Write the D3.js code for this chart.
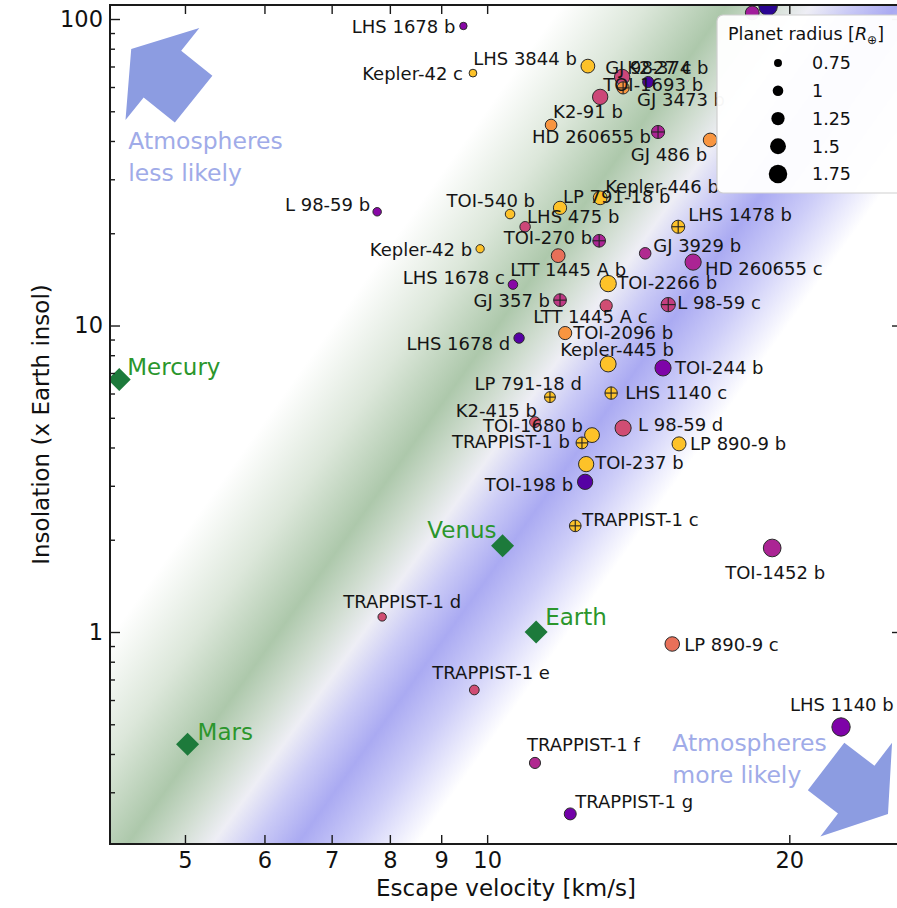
<!DOCTYPE html>
<html>
<head>
<meta charset="utf-8">
<script src="https://cdn.jsdelivr.net/npm/d3@7"></script>
<style>
  html, body { margin: 0; padding: 0; background: #ffffff; }
  svg { display: block; font-family: "DejaVu Sans", sans-serif; }
</style>
</head>
<body>
<svg id="chart" width="897" height="908"></svg>
<script>
// ---------------- DATA ----------------
const planetNames = [
  "LHS 1678 b", "LHS 3844 b", "Kepler-42 c", "GJ 9827 c", "GJ 3473 b",
  "K2-374 b", "TOI-1693 b", "K2-91 b", "HD 260655 b", "GJ 486 b",
  "", "", "", "L 98-59 b", "TOI-540 b",
  "LP 791-18 b", "Kepler-446 b", "LHS 475 b", "TOI-270 b", "Kepler-42 b",
  "LHS 1478 b", "GJ 3929 b", "HD 260655 c", "LTT 1445 A b", "TOI-2266 b",
  "LHS 1678 c", "GJ 357 b", "L 98-59 c", "LTT 1445 A c", "TOI-2096 b",
  "LHS 1678 d", "Kepler-445 b", "TOI-244 b", "LP 791-18 d", "LHS 1140 c",
  "K2-415 b", "TOI-1680 b", "TRAPPIST-1 b", "L 98-59 d", "LP 890-9 b",
  "TOI-237 b", "TOI-198 b", "TRAPPIST-1 c", "TOI-1452 b", "TRAPPIST-1 d",
  "LP 890-9 c", "TRAPPIST-1 e", "LHS 1140 b", "TRAPPIST-1 f", "TRAPPIST-1 g"
];
// escape velocity [km/s]
const escapeVelocity = [
  9.47, 12.6, 9.68, 13.63, 13.66, 14.47, 12.96, 11.58, 14.8, 16.68,
  12.66, 19.05, 18.37, 7.77, 10.54, 11.82, 12.96, 10.91, 12.93, 9.84,
  15.5, 14.37, 16.04, 11.77, 13.2, 10.61, 11.82, 15.15, 13.14, 11.96,
  10.76, 13.2, 14.97, 11.55, 13.29, 11.16, 12.72, 12.43, 13.66, 15.53,
  12.55, 12.52, 12.24, 19.23, 7.86, 15.29, 9.71, 22.52, 11.16, 12.1
];
// insolation [x Earth]
const insolation = [
  94.9, 70.2, 66.6, 64.7, 59.6, 62.3, 55.7, 45.1, 42.8, 40.3,
  116, 110, 104.7, 23.5, 23.1, 24.2, 26.1, 21.0, 18.9, 17.8,
  21.0, 17.2, 16.1, 16.9, 13.7, 13.6, 12.1, 11.7, 11.6, 9.45,
  9.1, 7.49, 7.27, 5.84, 6.02, 4.84, 4.39, 4.14, 4.63, 4.11,
  3.53, 3.09, 2.22, 1.88, 1.12, 0.914, 0.647, 0.49, 0.374, 0.255
];
// planet radius [R_earth]
const planetRadius = [
  0.70, 1.30, 0.73, 1.45, 1.15, 1.05, 1.45, 1.10, 1.24, 1.30,
  1.20, 1.75, 1.30, 0.80, 0.90, 1.25, 1.30, 0.99, 1.20, 0.78,
  1.24, 1.09, 1.53, 1.30, 1.54, 0.90, 1.20, 1.35, 1.15, 1.24,
  0.98, 1.50, 1.52, 1.03, 1.17, 1.02, 1.40, 1.12, 1.52, 1.32,
  1.44, 1.44, 1.10, 1.67, 0.79, 1.37, 0.92, 1.73, 1.05, 1.13
];
// colour value (plasma colormap position)
const colorValue = [
  0.28, 0.87, 0.87, 0.50, 0.75, 0.12, 0.50, 0.75, 0.38, 0.75,
  0.87, 0.05, 0.35, 0.28, 0.87, 0.87, 0.87, 0.50, 0.38, 0.87,
  0.87, 0.40, 0.38, 0.64, 0.87, 0.28, 0.45, 0.47, 0.52, 0.75,
  0.15, 0.87, 0.25, 0.87, 0.87, 0.55, 0.87, 0.87, 0.52, 0.87,
  0.87, 0.15, 0.87, 0.38, 0.52, 0.64, 0.52, 0.25, 0.40, 0.22
];
// observed flag (cross marker)
const hasCross = [
  0, 0, 0, 0, 1, 0, 0, 0, 1, 0,
  0, 0, 0, 0, 0, 0, 0, 0, 1, 0,
  1, 0, 0, 0, 0, 0, 1, 1, 0, 0,
  0, 0, 0, 1, 1, 0, 0, 1, 0, 0,
  0, 0, 1, 0, 0, 0, 0, 0, 0, 0
];

const solarNames = ["Mercury", "Venus", "Earth", "Mars"];
const solarVelocity = [4.3, 10.36, 11.19, 5.03];
const solarInsolation = [6.67, 1.91, 1.0, 0.43];

const xTickValues = [5, 6, 7, 8, 9, 10, 20];
const yMajorTicks = [1, 10, 100];
const yMinorTicks = [0.3, 0.4, 0.5, 0.6, 0.7, 0.8, 0.9, 2, 3, 4, 5, 6, 7, 8, 9, 20, 30, 40, 50, 60, 70, 80, 90];
const legendRadii = [0.75, 1, 1.25, 1.5, 1.75];
const legendLabels = ["0.75", "1", "1.25", "1.5", "1.75"];

const xLimits = [4.21, 25.9];
const yLimits = [0.2034, 111.1];

// ---------------- LAYOUT (label offsets, px) ----------------
const labelDx = [
  -8, -11, -10, -17, 14, -21, 3, 2, -7, -3,
  0, 0, 0, -7, 25, 3, 5, 2, -7, -8,
  10, 8, 12, -48, 9, -8, -10, 9, -73, 8,
  -9, -48, 12, 32, 14, 2, -9, -12, 15, 11,
  9, -12, 7, -47, -39, 12, -42, -51, -8, 5
];
const labelDy = [
  1, -8, 0, -9, 12, -14, -12, -13, 5, 15,
  0, 0, 0, -7, -14, -11, -11, -10, -3, 1,
  -12, -8, 6, 14, -1, -7, 0, -2, 11, -1,
  5, -14, 0, -14, -1, -12, -10, -1, -3, 0,
  -2, 3, -6, 25, -15, 1, -17, -22, -18, -12
];
const labelAnchor = [
  "end", "end", "end", "start", "start", "start", "start", "start", "end", "end",
  "start", "start", "start", "end", "end", "start", "start", "start", "end", "end",
  "start", "start", "start", "start", "start", "end", "end", "start", "start", "start",
  "end", "start", "start", "end", "start", "end", "end", "end", "start", "start",
  "start", "end", "start", "start", "start", "start", "start", "start", "start", "start"
];
const solarLabelDx = [8, -6, 9, 10];
const solarLabelDy = [-13, -16, -15, -13];
const solarLabelAnchor = ["start", "end", "start", "start"];

// ---------------- CHART ----------------
const plot = { left: 110, right: 902, top: 5, bottom: 844 };
const svg = d3.select("#chart");
const x = d3.scaleLog().domain(xLimits).range([plot.left, plot.right]);
const y = d3.scaleLog().domain(yLimits).range([plot.bottom, plot.top]);
const pxPerRadius = 5.3; // marker radius in px per Earth radius

const defs = svg.append("defs");
defs.append("clipPath").attr("id", "plotclip").append("rect")
  .attr("x", plot.left).attr("y", plot.top)
  .attr("width", plot.right - plot.left).attr("height", plot.bottom - plot.top);

// diagonal background bands (green / blue)
const bandAnchor = [6.2, 1]; // green band centre passes here
const bandSlope = 1.4;       // px down per px left
const gx0 = x(bandAnchor[0]), gy0 = y(bandAnchor[1]);
const span = 700, sStart = -300;
const kk = span / (bandSlope + 1 / bandSlope);
const grad = defs.append("linearGradient").attr("id", "shore")
  .attr("gradientUnits", "userSpaceOnUse")
  .attr("x1", gx0 + sStart).attr("y1", gy0)
  .attr("x2", gx0 + sStart + bandSlope * kk).attr("y2", gy0 + kk);
const bandStops = [
  [-300, "#ffffff"], [-165, "#ffffff"], [-80, "#dce7da"], [0, "#adc8ab"],
  [45, "#d0ddd0"], [85, "#eeeef5"], [125, "#cbcbf6"], [170, "#aaaaf2"],
  [225, "#cdcdf8"], [290, "#ffffff"], [400, "#ffffff"]
];
bandStops.forEach(([s, c]) => {
  grad.append("stop").attr("offset", (s - sStart) / span).attr("stop-color", c);
});

const plotG = svg.append("g").attr("clip-path", "url(#plotclip)");
plotG.append("rect")
  .attr("x", plot.left).attr("y", plot.top)
  .attr("width", plot.right - plot.left).attr("height", plot.bottom - plot.top)
  .attr("fill", "url(#shore)");

// arrows + annotation text
const arrowColor = "#8c9ce1";
const annoColor = "#a0abe8";
const arrows = [
  { tail: [5.10, 54.8], tip: [4.42, 79.8] },
  { tail: [21.76, 0.364], tip: [25.08, 0.255] }
];
function arrowPoints(a) {
  const t = [x(a.tail[0]), y(a.tail[1])], p = [x(a.tip[0]), y(a.tip[1])];
  const dx = p[0] - t[0], dy = p[1] - t[1], L = Math.hypot(dx, dy);
  const u = [dx / L, dy / L], n = [-u[1], u[0]];
  const w = 30, hw = 59, hl = 40;
  const b = [p[0] - u[0] * hl, p[1] - u[1] * hl];
  return [
    [t[0] + n[0] * w, t[1] + n[1] * w],
    [b[0] + n[0] * w, b[1] + n[1] * w],
    [b[0] + n[0] * hw, b[1] + n[1] * hw],
    p,
    [b[0] - n[0] * hw, b[1] - n[1] * hw],
    [b[0] - n[0] * w, b[1] - n[1] * w],
    [t[0] - n[0] * w, t[1] - n[1] * w]
  ];
}
plotG.selectAll("polygon.arrow").data(arrows).join("polygon")
  .attr("class", "arrow")
  .attr("points", d => arrowPoints(d).map(q => q.join(",")).join(" "))
  .attr("fill", arrowColor);

const annotations = [
  { lines: ["Atmospheres", "less likely"], at: [4.39, 37.6] },
  { lines: ["Atmospheres", "more likely"], at: [15.29, 0.409] }
];
annotations.forEach(a => {
  const t = svg.append("text")
    .attr("x", x(a.at[0])).attr("y", y(a.at[1]))
    .attr("font-size", 23.5).attr("fill", annoColor);
  a.lines.forEach((l, i) => {
    t.append("tspan").attr("x", x(a.at[0])).attr("dy", i === 0 ? 0 : 32).text(l);
  });
});

// solar system diamonds
const solar = solarNames.map((n, i) => ({ name: n, v: solarVelocity[i], I: solarInsolation[i], i }));
plotG.selectAll("path.solar").data(solar).join("path")
  .attr("class", "solar")
  .attr("transform", d => `translate(${x(d.v)},${y(d.I)})`)
  .attr("d", "M0,-11.5L11.5,0L0,11.5L-11.5,0Z")
  .attr("fill", "#1d7a3b");
svg.selectAll("text.solar").data(solar).join("text")
  .attr("class", "solar")
  .attr("x", d => x(d.v) + solarLabelDx[d.i])
  .attr("y", d => y(d.I) + solarLabelDy[d.i])
  .attr("dy", "0.36em")
  .attr("text-anchor", d => solarLabelAnchor[d.i])
  .attr("font-size", 23)
  .attr("fill", "#2b962c")
  .text(d => d.name);

// planets
const planets = planetNames.map((n, i) => ({
  name: n, v: escapeVelocity[i], I: insolation[i], R: planetRadius[i],
  c: colorValue[i], cross: hasCross[i], i
}));
const pg = plotG.selectAll("g.planet").data(planets).join("g")
  .attr("class", "planet")
  .attr("transform", d => `translate(${x(d.v)},${y(d.I)})`);
pg.append("circle")
  .attr("r", d => d.R * pxPerRadius)
  .attr("fill", d => d3.interpolatePlasma(d.c))
  .attr("stroke", "#2a2a2a").attr("stroke-width", 1);
pg.filter(d => d.cross).each(function (d) {
  const r = d.R * pxPerRadius;
  const g = d3.select(this);
  g.append("line").attr("x1", -r).attr("x2", r).attr("y1", 0).attr("y2", 0)
    .attr("stroke", "#222").attr("stroke-width", 1.1);
  g.append("line").attr("y1", -r).attr("y2", r).attr("x1", 0).attr("x2", 0)
    .attr("stroke", "#222").attr("stroke-width", 1.1);
});

// planet labels
const labelG = svg.append("g").attr("clip-path", "url(#plotclip)");
labelG.selectAll("text").data(planets.filter(d => d.name !== "")).join("text")
  .attr("x", d => x(d.v) + labelDx[d.i])
  .attr("y", d => y(d.I) + labelDy[d.i])
  .attr("dy", "0.36em")
  .attr("text-anchor", d => labelAnchor[d.i])
  .attr("font-size", 18)
  .attr("fill", "#151515")
  .text(d => d.name);

// ---------------- AXES ----------------
const axisColor = "#1a1a1a";
function styleAxis(g) {
  g.select(".domain").remove();
  g.selectAll(".tick line").attr("stroke", axisColor).attr("stroke-width", 1.4);
  g.selectAll(".tick text").attr("fill", "#111").attr("font-size", 22.5)
    .attr("font-family", "DejaVu Sans, sans-serif");
}
svg.append("g").attr("transform", `translate(0,${plot.bottom})`)
  .call(d3.axisBottom(x).tickValues(xTickValues).tickFormat(d3.format("d"))
    .tickSizeInner(-9).tickSizeOuter(0).tickPadding(8))
  .call(styleAxis);
svg.append("g").attr("transform", `translate(0,${plot.top})`)
  .call(d3.axisTop(x).tickValues(xTickValues).tickFormat("")
    .tickSizeInner(-9).tickSizeOuter(0))
  .call(styleAxis);
svg.append("g").attr("transform", `translate(${plot.left},0)`)
  .call(d3.axisLeft(y).tickValues(yMajorTicks).tickFormat(d3.format("d"))
    .tickSizeInner(-10).tickSizeOuter(0).tickPadding(7))
  .call(styleAxis);
svg.append("g").attr("transform", `translate(${plot.left},0)`)
  .call(d3.axisLeft(y).tickValues(yMinorTicks).tickFormat("")
    .tickSizeInner(-5).tickSizeOuter(0))
  .call(styleAxis);
svg.append("g").attr("transform", `translate(${plot.right},0)`)
  .call(d3.axisRight(y).tickValues(yMajorTicks).tickFormat("")
    .tickSizeInner(-10).tickSizeOuter(0))
  .call(styleAxis);

// frame
svg.append("rect")
  .attr("x", plot.left).attr("y", plot.top)
  .attr("width", plot.right - plot.left).attr("height", plot.bottom - plot.top)
  .attr("fill", "none").attr("stroke", axisColor).attr("stroke-width", 2);

// axis titles
svg.append("text")
  .attr("x", (plot.left + plot.right) / 2).attr("y", 896)
  .attr("text-anchor", "middle").attr("font-size", 23).attr("fill", "#111")
  .text("Escape velocity [km/s]");
svg.append("text")
  .attr("transform", `translate(49,${(plot.top + plot.bottom) / 2}) rotate(-90)`)
  .attr("text-anchor", "middle").attr("font-size", 23).attr("fill", "#111")
  .text("Insolation (x Earth insol)");

// ---------------- LEGEND ----------------
const lg = svg.append("g");
lg.append("rect")
  .attr("x", 717).attr("y", 15).attr("width", 200).attr("height", 178)
  .attr("rx", 6).attr("fill", "#ffffff").attr("fill-opacity", 0.96)
  .attr("stroke", "#cfcfcf").attr("stroke-width", 1.2);
const title = lg.append("text").attr("x", 806).attr("y", 39.5)
  .attr("text-anchor", "middle").attr("font-size", 17.5).attr("fill", "#111");
title.append("tspan").text("Planet radius [");
title.append("tspan").attr("font-style", "italic").text("R");
title.append("tspan").attr("font-size", 12).attr("dy", 4).text("⊕");
title.append("tspan").attr("dy", -4).text("]");
const legendItems = legendRadii.map((r, i) => ({ r, label: legendLabels[i], i }));
lg.selectAll("circle.leg").data(legendItems).join("circle")
  .attr("class", "leg")
  .attr("cx", 778).attr("cy", d => 63 + d.i * 27.75)
  .attr("r", d => d.r * pxPerRadius)
  .attr("fill", "#000");
lg.selectAll("text.leg").data(legendItems).join("text")
  .attr("class", "leg")
  .attr("x", 812).attr("y", d => 63 + d.i * 27.75).attr("dy", "0.36em")
  .attr("font-size", 17.5).attr("fill", "#111")
  .text(d => d.label);
</script>
</body>
</html>
